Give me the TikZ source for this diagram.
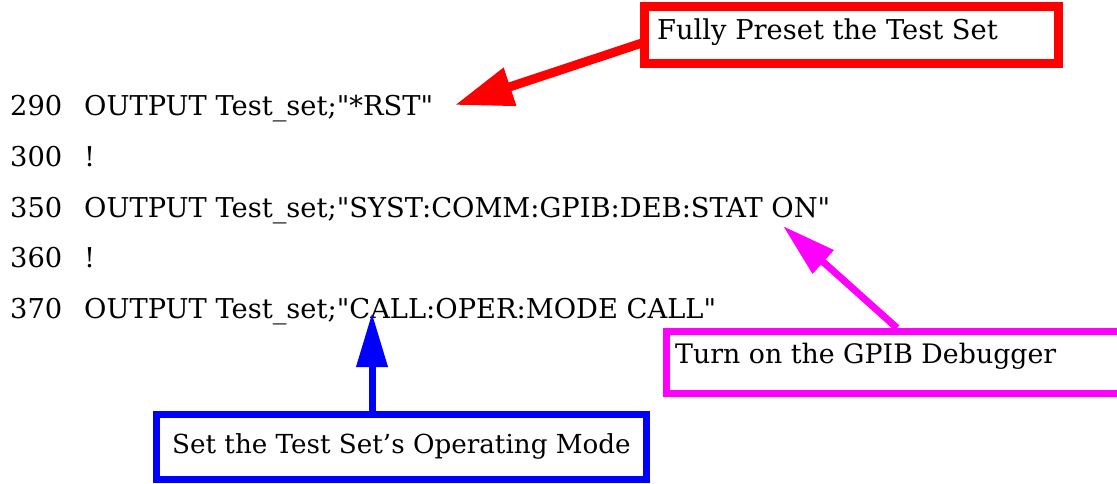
\documentclass[tikz,border=0pt]{standalone}
\usepackage{fontspec}
\setmainfont{DejaVu Serif}[Ligatures=TeXOff]
\usetikzlibrary{arrows.meta}
\definecolor{rd}{RGB}{255,0,0}
\definecolor{mg}{RGB}{255,0,255}
\definecolor{bl}{RGB}{0,0,255}
\tikzset{
  txt/.style={anchor=base west, inner sep=0pt, font=\fontsize{27.3}{30}\selectfont},
  pointer/.style={line width=#1, -{Triangle[length=54pt,width=30pt]}},
}
\begin{document}
\begin{tikzpicture}[x=1pt,y=-1pt]
\clip (0,0) rectangle (1117,484);
\fill[white] (0,0) rectangle (1117,484);
% code lines
\node[txt] (n290) at (10,116) {290};
\node[txt] (c290) at (84,116) {OUTPUT Test\_set;"*RST"};
\node[txt] (n300) at (10,167) {300};
\node[txt] (c300) at (84,167) {!};
\node[txt] (n350) at (10,217) {350};
\node[txt] (c350) at (84,217) {OUTPUT Test\_set;"SYST:COMM:GPIB:DEB:STAT ON"};
\node[txt] (n360) at (10,267) {360};
\node[txt] (c360) at (84,267) {!};
\node[txt] (n370) at (10,318) {370};
\node[txt] (c370) at (84,318) {OUTPUT Test\_set;"CALL:OPER:MODE CALL"};
% boxes
\draw[rd, line width=9pt] (644.5,6.5) rectangle (1058.5,63.5);
\node[txt] (tred) at (657,40) {Fully Preset the Test Set};
\coordinate (redbox) at (642,43);
\draw[mg, line width=7.5pt] (666.5,331.5) rectangle (1125,393.5);
\node[txt, font=\fontsize{26.8}{30}\selectfont] (tmag) at (675,363) {Turn on the GPIB Debugger};
\coordinate (magbox) at (897,328);
\draw[bl, line width=7.5pt] (156.5,414.5) rectangle (646.5,479.5);
\node[txt, font=\fontsize{26.2}{30}\selectfont] (tblue) at (172,453) {Set the Test Set’s Operating Mode};
\coordinate (bluebox) at (372,411);
% arrow targets
\coordinate (redtip) at (455,105);
\coordinate (magtip) at (783,226);
\coordinate (bluetip) at (372,313);
\draw[rd, line width=9pt, -{Triangle[length=58pt,width=38pt]}] (redbox) -- (redtip);
\draw[mg, pointer=7pt] (magbox) -- (magtip);
\draw[bl, pointer=7pt] (bluebox) -- (bluetip);
\end{tikzpicture}
\end{document}
